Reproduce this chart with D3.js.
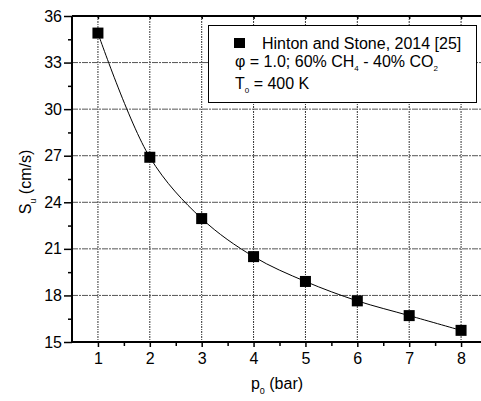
<!DOCTYPE html>
<html>
<head>
<meta charset="utf-8">
<script src="https://cdn.jsdelivr.net/npm/d3@7"></script>
<style>
html,body{margin:0;padding:0;background:#fff;}
svg{display:block;font-family:"Liberation Sans",Arial,sans-serif;}
</style>
</head>
<body>
<svg id="chart" width="481" height="401"></svg>
<script>
const pressure = [1, 2, 3, 4, 5, 6, 7, 8];
const speed = [34.9, 26.9, 22.95, 20.5, 18.9, 17.65, 16.7, 15.75];
const xTicks = [1, 2, 3, 4, 5, 6, 7, 8];
const yTicks = [15, 18, 21, 24, 27, 30, 33, 36];

const svg = d3.select("#chart");
const L = 72, T = 16, B = 342, R = 487;
const x = d3.scaleLinear().domain([0.5, 8.5]).range([L, R]);
const y = d3.scaleLinear().domain([15, 36]).range([B, T]);

// grid
const g = svg.append("g");
g.selectAll(".vg").data(xTicks).enter().append("line")
  .attr("x1", d => x(d)).attr("x2", d => x(d)).attr("y1", T).attr("y2", B)
  .attr("stroke", "#333").attr("stroke-width", 1).attr("stroke-dasharray", "2,1,1,1");
g.selectAll(".hg").data(yTicks.filter(d => d > 15 && d < 36)).enter().append("line")
  .attr("x1", L).attr("x2", R).attr("y1", d => y(d)).attr("y2", d => y(d))
  .attr("stroke", "#555").attr("stroke-width", 1).attr("stroke-dasharray", "6,1,2,1");

// curve
svg.append("path")
  .datum(pressure.map((p, i) => [p, speed[i]]))
  .attr("fill", "none").attr("stroke", "#000").attr("stroke-width", 1)
  .attr("d", d3.line().x(d => x(d[0])).y(d => y(d[1])).curve(d3.curveCatmullRom.alpha(0.5)));

// markers
svg.selectAll(".pt").data(pressure).enter().append("rect")
  .attr("x", (d) => x(d) - 5.5).attr("y", (d, i) => y(speed[i]) - 5.5)
  .attr("width", 11).attr("height", 11).attr("fill", "#000");

// axes
const xAxis = d3.axisBottom(x).tickValues(xTicks).tickSize(5).tickPadding(6).tickFormat(d3.format("d"));
const xMinor = d3.axisBottom(x).tickValues(d3.range(1.5, 8.5, 1)).tickSize(4).tickFormat("");
const yAxis = d3.axisLeft(y).tickValues(yTicks).tickSize(8).tickPadding(2).tickFormat(d3.format("d"));
const yMinor = d3.axisLeft(y).tickValues(d3.range(16.5, 36, 3)).tickSize(4).tickFormat("");
const xTop = d3.axisBottom(x).tickValues(xTicks).tickSize(3).tickFormat("");

function styleAxis(sel) {
  sel.select(".domain").remove();
  sel.selectAll("line").attr("stroke", "#000").attr("stroke-width", 1.5);
  sel.selectAll("text").attr("fill", "#000").attr("font-size", 16)
     .attr("font-family", "'Liberation Sans', Arial, sans-serif");
}
svg.append("g").attr("transform", `translate(0,${B})`).call(xAxis).call(styleAxis);
svg.append("g").attr("transform", `translate(0,${B})`).call(xMinor).call(styleAxis);
svg.append("g").attr("transform", `translate(${L},0)`).call(yAxis).call(styleAxis);
svg.append("g").attr("transform", `translate(${L},0)`).call(yMinor).call(styleAxis);
svg.append("g").attr("transform", `translate(0,${T})`).call(xTop).call(styleAxis);

// frame
svg.append("line").attr("x1", L).attr("x2", R).attr("y1", B).attr("y2", B).attr("stroke", "#000").attr("stroke-width", 2);
svg.append("line").attr("x1", L).attr("x2", L).attr("y1", T).attr("y2", B).attr("stroke", "#000").attr("stroke-width", 2);
svg.append("line").attr("x1", L).attr("x2", R).attr("y1", T).attr("y2", T).attr("stroke", "#000").attr("stroke-width", 2);

// axis titles
const xt = svg.append("text").attr("x", 277).attr("y", 389).attr("text-anchor", "middle")
  .attr("font-size", 16).attr("fill", "#000");
xt.append("tspan").text("p");
xt.append("tspan").attr("font-size", 9).attr("dy", 5).text("0");
xt.append("tspan").attr("dy", -5).text(" (bar)");

const yt = svg.append("text").attr("transform", "translate(31,182) rotate(-90)")
  .attr("text-anchor", "middle").attr("font-size", 16).attr("fill", "#000");
yt.append("tspan").text("S");
yt.append("tspan").attr("font-size", 9).attr("dy", 5).text("u");
yt.append("tspan").attr("dy", -5).text(" (cm/s)");

// legend
const lg = svg.append("g");
lg.append("rect").attr("x", 208.5).attr("y", 25.5).attr("width", 268).attr("height", 77)
  .attr("fill", "#fff").attr("stroke", "#000").attr("stroke-width", 1);
lg.append("rect").attr("x", 234).attr("y", 38).attr("width", 11).attr("height", 10).attr("fill", "#000");
lg.append("text").attr("x", 262).attr("y", 49).attr("font-size", 16).attr("fill", "#000")
  .text("Hinton and Stone, 2014 [25]");
const l2 = lg.append("text").attr("x", 235).attr("y", 67).attr("font-size", 16).attr("fill", "#000");
l2.append("tspan").text("φ = 1.0; 60% CH");
l2.append("tspan").attr("font-size", 8).attr("dy", 4).text("4");
l2.append("tspan").attr("dy", -4).text(" - 40% CO");
l2.append("tspan").attr("font-size", 8).attr("dy", 4).text("2");
const l3 = lg.append("text").attr("x", 235).attr("y", 89).attr("font-size", 16).attr("fill", "#000");
l3.append("tspan").text("T");
l3.append("tspan").attr("font-size", 8).attr("dy", 4).text("0");
l3.append("tspan").attr("dy", -4).text(" = 400 K");
</script>
</body>
</html>
